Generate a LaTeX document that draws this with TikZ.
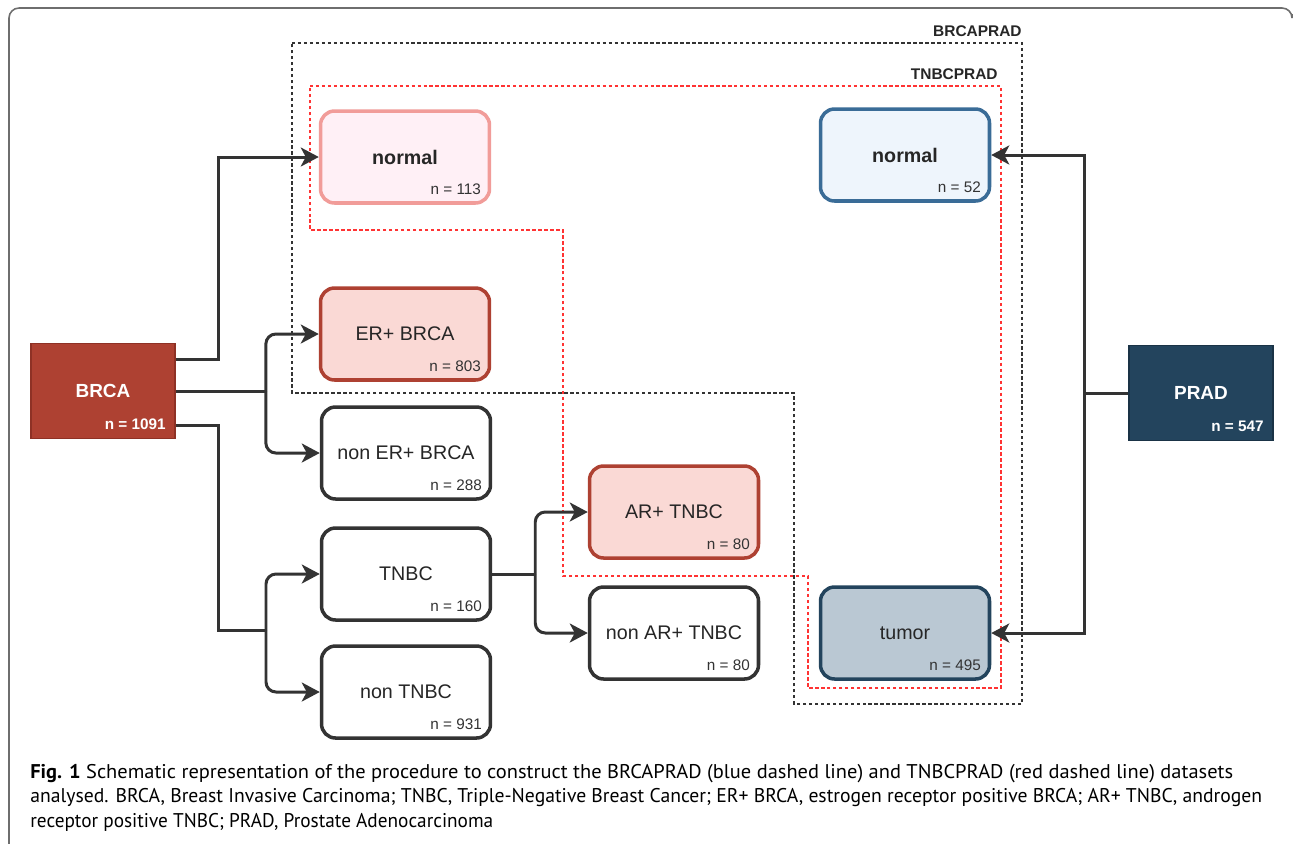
\documentclass[tikz,border=0pt]{standalone}
\usepackage{fontspec}
\usepackage{graphicx}
\setmainfont{Liberation Sans}
\newfontfamily\capfont{PT Sans}
\usetikzlibrary{arrows.meta}

\definecolor{brcafill}{HTML}{AE4132}
\definecolor{brcadraw}{HTML}{8E3125}
\definecolor{erfill}{HTML}{FAD9D5}
\definecolor{pinkfill}{HTML}{FFF0F6}
\definecolor{pinkdraw}{HTML}{F19C99}
\definecolor{bluefill}{HTML}{EEF5FC}
\definecolor{bluedraw}{HTML}{3A6C97}
\definecolor{tumfill}{HTML}{BAC8D3}
\definecolor{pradfill}{HTML}{23445D}
\definecolor{praddraw}{HTML}{1A3346}
\definecolor{darkline}{HTML}{333333}
\definecolor{reddash}{HTML}{FF3333}
\definecolor{framegray}{HTML}{6E6E6E}

\tikzset{
	box/.style={draw=darkline, line width=2pt, rounded corners=0.28cm, fill=white,
		minimum width=3.38cm, minimum height=1.84cm, text=black!85,
		font=\fontsize{11.2}{13}\selectfont},
	src/.style={line width=1pt, minimum width=2.88cm, minimum height=1.9cm, text=white,
		font=\fontsize{10.8}{13}\selectfont\bfseries},
	cnt/.style={anchor=base east, inner sep=0pt, text=black!80,
		font=\fontsize{8.7}{10}\selectfont},
	srccnt/.style={cnt, text=white, font=\fontsize{8.7}{10}\selectfont\bfseries},
	conn/.style={draw=darkline, line width=1.7pt},
	arr/.style={conn, -{Stealth[length=0.36cm, width=0.38cm, inset=0.1cm]}},
	brcadash/.style={draw=darkline, line width=0.8pt, dash pattern=on 1.9pt off 1.5pt},
	tnbcdash/.style={draw=reddash, line width=0.8pt, dash pattern=on 1.9pt off 1.5pt},
	reglabel/.style={anchor=base east, inner sep=0pt, text=black!85,
		font=\fontsize{8.8}{10}\selectfont\bfseries},
	capt/.style={anchor=base west, inner sep=0pt, font=\capfont\fontsize{11.3}{13}\selectfont}
}

\begin{document}
\begin{tikzpicture}[x=0.02cm,y=-0.02cm]
	\useasboundingbox (0,0) rectangle (1293,843);
	\fill[white] (0,0) rectangle (1293,843);
	\draw[framegray, line width=0.9pt, rounded corners=0.2cm] (9,850) -- (9,8) -- (1292,8) -- (1292,14);
	% dataset regions
	\draw[brcadash] (292,43) -- (1022,43) -- (1022,704) -- (794,704) -- (794,393) -- (292,393) -- cycle;
	\draw[tnbcdash] (310,86) -- (1001,86) -- (1001,688) -- (808,688) -- (808,576) -- (563,576) -- (563,230) -- (310,230) -- cycle;
	\node[reglabel] (brcaprad) at (1022,36) {BRCAPRAD};
	\node[reglabel] (tnbcprad) at (998,79) {TNBCPRAD};
	% sources
	\node[src, fill=brcafill, draw=brcadraw] (brca) at (103,391) {BRCA};
	\node[srccnt] (brcan) at ([xshift=-0.2cm, yshift=0.19cm]brca.south east) {n = 1091};
	\node[src, fill=pradfill, draw=praddraw] (prad) at (1201,393) {PRAD};
	\node[srccnt] (pradn) at ([xshift=-0.2cm, yshift=0.19cm]prad.south east) {n = 547};
	% BRCA subsets
	\node[box, fill=pinkfill, draw=pinkdraw, font=\fontsize{11.2}{13}\selectfont\bfseries] (nrmbrca) at (405,157) {normal};
	\node[cnt] (nrmbrcan) at ([xshift=-0.2cm, yshift=0.2cm]nrmbrca.south east) {n = 113};
	\node[box, fill=erfill, draw=brcafill] (erbrca) at (405,334) {ER+ BRCA};
	\node[cnt] (erbrcan) at ([xshift=-0.2cm, yshift=0.2cm]erbrca.south east) {n = 803};
	\node[box] (nonerbrca) at (406,453) {non ER+ BRCA};
	\node[cnt] (nonerbrcan) at ([xshift=-0.2cm, yshift=0.2cm]nonerbrca.south east) {n = 288};
	\node[box] (tnbc) at (406,574) {TNBC};
	\node[cnt] (tnbcn) at ([xshift=-0.2cm, yshift=0.2cm]tnbc.south east) {n = 160};
	\node[box] (nontnbc) at (406,692) {non TNBC};
	\node[cnt] (nontnbcn) at ([xshift=-0.2cm, yshift=0.2cm]nontnbc.south east) {n = 931};
	\node[box, fill=erfill, draw=brcafill] (artnbc) at (674,512) {AR+ TNBC};
	\node[cnt] (artnbcn) at ([xshift=-0.2cm, yshift=0.2cm]artnbc.south east) {n = 80};
	\node[box] (nonartnbc) at (674,633) {non AR+ TNBC};
	\node[cnt] (nonartnbcn) at ([xshift=-0.2cm, yshift=0.2cm]nonartnbc.south east) {n = 80};
	% PRAD subsets
	\node[box, fill=bluefill, draw=bluedraw, font=\fontsize{11.2}{13}\selectfont\bfseries] (nrmprad) at (905,155) {normal};
	\node[cnt] (nrmpradn) at ([xshift=-0.2cm, yshift=0.2cm]nrmprad.south east) {n = 52};
	\node[box, fill=tumfill, draw=pradfill] (tumor) at (905,633) {tumor};
	\node[cnt] (tumorn) at ([xshift=-0.2cm, yshift=0.2cm]tumor.south east) {n = 495};
	% connectors
	\coordinate (jtn) at (266,630);
	\draw[arr] ([yshift=0.64cm]brca.east) -- ++(43,0) |- (nrmbrca.west);
	\draw[conn] (brca.east) -- ++(90,0) coordinate (jer);
	\draw[arr, rounded corners=0.2cm] (jer) |- (erbrca.west);
	\draw[arr, rounded corners=0.2cm] (jer) |- (nonerbrca.west);
	\draw[conn] ([yshift=-0.68cm]brca.east) -- ++(43,0) |- (jtn);
	\draw[arr, rounded corners=0.2cm] (jtn) |- (tnbc.west);
	\draw[arr, rounded corners=0.2cm] (jtn) |- (nontnbc.west);
	\draw[conn] (tnbc.east) -- ++(43,0) coordinate (jar);
	\draw[arr, rounded corners=0.2cm] (jar) |- (artnbc.west);
	\draw[arr, rounded corners=0.2cm] (jar) |- (nonartnbc.west);
	\draw[conn] (prad.west) -- ++(-44,0) coordinate (jpr);
	\draw[arr] (jpr) |- (nrmprad.east);
	\draw[arr] (jpr) |- (tumor.east);
	% caption
	\node[capt] (cap1) at (30,778) {\resizebox{24.06cm}{\height}{\textbf{Fig. 1} Schematic representation of the procedure to construct the BRCAPRAD (blue dashed line) and TNBCPRAD (red dashed line) datasets}};
	\node[capt] (cap2) at (30,802) {\resizebox{24.64cm}{\height}{analysed. BRCA, Breast Invasive Carcinoma; TNBC, Triple-Negative Breast Cancer; ER+ BRCA, estrogen receptor positive BRCA; AR+ TNBC, androgen}};
	\node[capt] (cap3) at (30,827) {\resizebox{9.26cm}{\height}{receptor positive TNBC; PRAD, Prostate Adenocarcinoma}};
\end{tikzpicture}
\end{document}
